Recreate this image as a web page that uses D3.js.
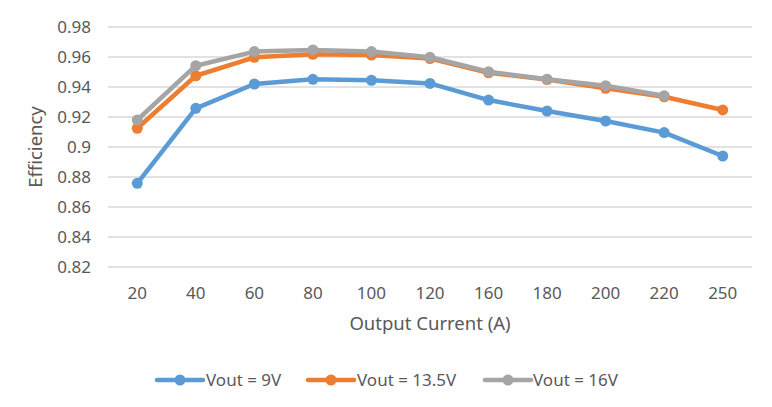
<!DOCTYPE html>
<html>
<head>
<meta charset="utf-8">
<script src="https://cdn.jsdelivr.net/npm/d3@7"></script>
<style>
  html, body { margin: 0; padding: 0; background: #fff; }
  svg { display: block; font-family: "Noto Sans", "Open Sans", sans-serif; }
</style>
</head>
<body>
<svg id="chart" width="772" height="407"></svg>
<script>
const categories = ["20", "40", "60", "80", "100", "120", "160", "180", "200", "220", "250"];
const vout9 = [0.8758, 0.9258, 0.942, 0.9451, 0.9445, 0.9424, 0.9313, 0.924, 0.9173, 0.9096, 0.894];
const vout135 = [0.9125, 0.9475, 0.9598, 0.9618, 0.9613, 0.959, 0.9495, 0.945, 0.9391, 0.9335, 0.9247];
const vout16 = [0.918, 0.9542, 0.9636, 0.9647, 0.9636, 0.9598, 0.9502, 0.9451, 0.9409, 0.9342];
const seriesNames = ["Vout = 9V", "Vout = 13.5V", "Vout = 16V"];
const seriesColors = ["#5B9BD5", "#ED7D31", "#A5A5A5"];
const yTicks = [0.82, 0.84, 0.86, 0.88, 0.9, 0.92, 0.94, 0.96, 0.98];
const xTitle = "Output Current (A)";
const yTitle = "Efficiency";

(function () {
const series = [vout9, vout135, vout16];
const svg = d3.select("#chart");
const pLeft = 108, pRight = 752, pTop = 27, pBottom = 267;
const textColor = "#595959";
const fontSize = 17;
const titleSize = 18.5;

const x = d3.scalePoint().domain(categories).range([pLeft, pRight]).padding(0.5);
const y = d3.scaleLinear().domain([0.82, 0.98]).range([pBottom, pTop]);

// gridlines
svg.append("g").selectAll("line").data(yTicks).join("line")
  .attr("x1", pLeft).attr("x2", pRight)
  .attr("y1", d => y(d)).attr("y2", d => y(d))
  .attr("stroke", "#D9D9D9").attr("stroke-width", 1.3);

// y tick labels
svg.append("g").selectAll("text").data(yTicks).join("text")
  .attr("x", 91).attr("y", d => y(d)).attr("dy", "0.36em")
  .attr("text-anchor", "end").attr("fill", textColor).attr("font-size", fontSize)
  .text(d => String(+d.toFixed(2)));

// x tick labels
svg.append("g").selectAll("text").data(categories).join("text")
  .attr("x", d => x(d)).attr("y", 298.5)
  .attr("text-anchor", "middle").attr("fill", textColor).attr("font-size", fontSize)
  .text(d => d);

// axis titles
svg.append("text").attr("x", (pLeft + pRight) / 2).attr("y", 329.5)
  .attr("text-anchor", "middle").attr("fill", textColor).attr("font-size", titleSize)
  .text(xTitle);
svg.append("text").attr("transform", `translate(41.5,${(pTop + pBottom) / 2}) rotate(-90)`)
  .attr("text-anchor", "middle").attr("fill", textColor).attr("font-size", titleSize)
  .text(yTitle);

// series
const line = d3.line().x((d, i) => x(categories[i])).y(d => y(d));
series.forEach((vals, si) => {
  const g = svg.append("g");
  g.append("path").datum(vals).attr("d", line)
    .attr("fill", "none").attr("stroke", seriesColors[si])
    .attr("stroke-width", 4.5).attr("stroke-linejoin", "round").attr("stroke-linecap", "round");
  g.selectAll("circle").data(vals).join("circle")
    .attr("cx", (d, i) => x(categories[i])).attr("cy", d => y(d))
    .attr("r", 5.5).attr("fill", seriesColors[si]);
});

// legend
const legendItems = [
  { x0: 157, tx: 206 },
  { x0: 308, tx: 357 },
  { x0: 485, tx: 533 }
];
const ly = 380;
legendItems.forEach((it, i) => {
  const g = svg.append("g");
  g.append("line").attr("x1", it.x0).attr("x2", it.x0 + 46)
    .attr("y1", ly).attr("y2", ly)
    .attr("stroke", seriesColors[i]).attr("stroke-width", 4.5).attr("stroke-linecap", "round");
  g.append("circle").attr("cx", it.x0 + 23).attr("cy", ly).attr("r", 5.5).attr("fill", seriesColors[i]);
  g.append("text").attr("x", it.tx).attr("y", ly).attr("dy", "0.36em")
    .attr("fill", textColor).attr("font-size", fontSize).text(seriesNames[i]);
});
})();
</script>
</body>
</html>
